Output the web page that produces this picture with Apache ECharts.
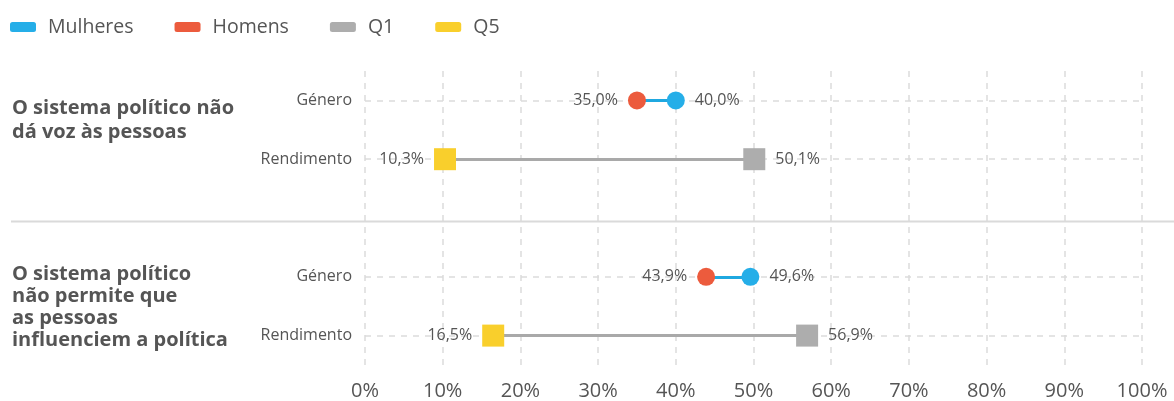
<!DOCTYPE html>
<html>
<head>
<meta charset="utf-8">
<script src="https://cdn.jsdelivr.net/npm/echarts@6/dist/echarts.min.js"></script>
<style>html,body{margin:0;padding:0;background:#fff;}#c{width:1174px;height:401px;}</style>
</head>
<body>
<div id="c"></div>
<script>
// ---- data ----
const rowLabels = ['Género', 'Rendimento', '', 'Género', 'Rendimento'];
const groupLabels = ['O sistema político não\ndá voz às pessoas', 'O sistema político\nnão permite que\nas pessoas\ninfluenciem a política'];
const generoRows = [0, 3];
const rendimentoRows = [1, 4];
const mulheres = [40.0, 49.6];
const homens = [35.0, 43.9];
const q1 = [50.1, 56.9];
const q5 = [10.3, 16.5];
const xMin = 0, xMax = 100, xStep = 10;

const FONT = '"Open Sans", "Noto Sans", sans-serif';
const TXT = '#555';
const C_M = '#25AEE8', C_H = '#EC5B3D', C_Q1 = '#ADADAD', C_Q5 = '#F9CF2C';
const GRID = '#dcdcdc';

const fmt = v => v.toFixed(1).replace('.', ',') + '%';
const pts = (vals, rows) => vals.map((v, i) => [v, rows[i]]);

function dotSeries(name, vals, rows, color, symbol, size, pos) {
  return {
    name, type: 'scatter', data: pts(vals, rows), symbol, symbolSize: size, z: 6,
    itemStyle: { color: color, opacity: 1 },
    label: { show: true, position: pos, distance: 10, formatter: p => fmt(p.value[0]),
      color: TXT, fontSize: 16, fontFamily: FONT },
    emphasis: { disabled: true }
  };
}
function connector(a, b, rows, color) {
  return {
    type: 'lines', coordinateSystem: 'cartesian2d', z: 4, silent: true,
    data: a.map((v, i) => ({ coords: [[v, rows[i]], [b[i], rows[i]]] })),
    lineStyle: { color: color, width: 3, opacity: 1 }
  };
}

const chart = echarts.init(document.getElementById('c'), null, { renderer: 'canvas' });
chart.setOption({
  animation: false,
  textStyle: { fontFamily: FONT },
  legend: {
    left: 5, top: 12, itemWidth: 26, itemHeight: 10, itemGap: 41, icon: 'roundRect',
    data: ['Mulheres', 'Homens', 'Q1', 'Q5'],
    textStyle: { color: TXT, fontSize: 19.5, fontFamily: FONT, padding: [0, 0, 0, 7] }
  },
  grid: { left: 365, right: 32, top: 71, bottom: 36, containLabel: false },
  xAxis: {
    type: 'value', min: xMin, max: xMax, interval: xStep,
    axisLine: { show: false }, axisTick: { show: false },
    axisLabel: { formatter: v => v + '%', color: TXT, fontSize: 20, fontFamily: FONT, margin: 16 },
    splitLine: { show: true, lineStyle: { color: GRID, type: [6, 6], width: 1.5 } }
  },
  yAxis: {
    type: 'category', data: rowLabels, inverse: true,
    axisLine: { show: false }, axisTick: { show: false }, splitLine: { show: false },
    axisLabel: { color: TXT, fontSize: 16, fontFamily: FONT, margin: 13 }
  },
  series: [
    {
      type: 'line', data: [], z: 1, silent: true,
      markLine: {
        z: 1, silent: true, symbol: ['none', 'none'], label: { show: false },
        lineStyle: { color: GRID, type: [6, 6], width: 1.5 },
        data: generoRows.concat(rendimentoRows).map(r => ({ yAxis: r }))
      }
    },
    connector(homens, mulheres, generoRows, '#1FA8E0'),
    connector(q5, q1, rendimentoRows, '#A9A9A9'),
    dotSeries('Mulheres', mulheres, generoRows, C_M, 'circle', 18, 'right'),
    dotSeries('Homens', homens, generoRows, C_H, 'circle', 18, 'left'),
    dotSeries('Q1', q1, rendimentoRows, C_Q1, 'rect', 22, 'right'),
    dotSeries('Q5', q5, rendimentoRows, C_Q5, 'rect', 22, 'left')
  ]
});

const yPix = r => chart.convertToPixel({ yAxisIndex: 0 }, r);
const sepY = Math.round(yPix(2)) + 3.5;
chart.setOption({
  graphic: [
    { type: 'line', silent: true, shape: { x1: 11, y1: sepY, x2: 1174, y2: sepY },
      style: { stroke: '#dadada', lineWidth: 2 }, z: 0 },
    { type: 'text', silent: true, x: 12, y: yPix(0) - 4,
      style: { text: groupLabels[0], fill: TXT, font: 'bold 20px ' + FONT, lineHeight: 24 } },
    { type: 'text', silent: true, x: 12, y: yPix(3) - 14,
      style: { text: groupLabels[1], fill: TXT, font: 'bold 20px ' + FONT, lineHeight: 22 } }
  ]
});
</script>
</body>
</html>
